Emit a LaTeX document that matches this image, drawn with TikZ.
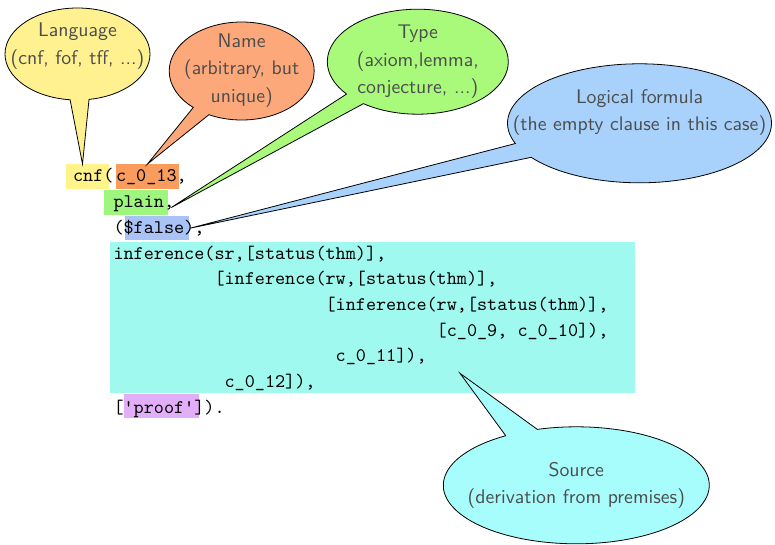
\documentclass[tikz,border=0pt]{standalone}
\usetikzlibrary{shapes.callouts,fit,calc}

% fills of the callouts and of the highlighted parts of the clause
\definecolor{langfill}{HTML}{FFF18F}
\definecolor{namefill}{HTML}{FCA87A}
\definecolor{typefill}{HTML}{A9F97B}
\definecolor{formfill}{HTML}{A8D2FC}
\definecolor{srcfill}{HTML}{A7FCFC}
\definecolor{cnfhl}{HTML}{FFF38A}
\definecolor{namehl}{HTML}{F99C5E}
\definecolor{typehl}{HTML}{9EF67E}
\definecolor{formhl}{HTML}{A9C3F7}
\definecolor{srchl}{HTML}{A0F9EF}
\definecolor{infohl}{HTML}{E2AEF8}
\definecolor{notetext}{HTML}{4D4D4D}

\newcommand\cdfont{\fontsize{9.62}{12.85}\selectfont\ttfamily}
\newcommand\ntfont{\fontsize{9.875}{13.65}\selectfont\sffamily}
% centred lines of a callout, taking no room, raised by #1
\newcommand\notelines[2]{\makebox[0pt]{\raisebox{#1}[0pt][0pt]{\begin{tabular}{@{}c@{}}#2\end{tabular}}}}

\begin{document}
\begin{tikzpicture}[x=0.5pt,y=-0.5pt,
  hlbox/.style={inner sep=0pt,outer sep=0pt,draw=none},
  codeline/.style={inner sep=0pt,outer sep=0pt,anchor=base west,font=\cdfont,text=black},
  note/.style={ellipse callout,draw=black,line width=0.4pt,inner sep=0pt,outer sep=0pt,
    text=notetext,font=\ntfont},
]
\useasboundingbox (0,0) rectangle (775,545);

% highlighted parts of the clause
\node[hlbox,fill=srchl,fit={(110,241.7) (635,393.3)}] (hlsrc) {};
\node[hlbox,fill=cnfhl,fit={(66,164) (109,189)}] (hlcnf) {};
\node[hlbox,fill=namehl,fit={(115.7,164) (179.3,189)}] (hlname) {};
\node[hlbox,fill=typehl,fit={(104,190) (168.3,215)}] (hltype) {};
\node[hlbox,fill=formhl,fit={(125,216) (189.3,240.3)}] (hlform) {};
\node[hlbox,fill=infohl,fit={(124,394.3) (199,418.3)}] (hlinfo) {};

% the clause
\node[codeline] (l1a) at (73.1,182) {cnf(};
\node[codeline] (l1b) at (116,182) {c\_0\_13,};
\node[codeline] (l2) at (113.5,207.7) {plain,};
\node[codeline] (l3) at (113.5,233.4) {(\$false),};
\node[codeline] (l4) at (113.5,259.1) {inference(sr,[status(thm)],};
\node[codeline] (l5) at (214.5,284.8) {[inference(rw,[status(thm)],};
\node[codeline] (l6) at (325.6,310.5) {[inference(rw,[status(thm)],};
\node[codeline] (l7) at (436.7,336.2) {[c\_0\_9, c\_0\_10]),};
\node[codeline] (l8) at (335.7,361.9) {c\_0\_11]),};
\node[codeline] (l9) at (224.6,387.6) {c\_0\_12]),};
\node[codeline] (l10) at (113.5,413.3) {[\textquotesingle proof\textquotesingle]).};

% where the callouts point
\coordinate (ptlang) at ($(hlcnf.north)+(-5,0)$);
\coordinate (ptname) at (hlname.north);
\coordinate (pttype) at ($(hltype.east)+(3,5)$);
\coordinate (ptform) at ($(hlform.east)+(1,0)$);
\coordinate (ptsrc) at ($(hlsrc.south)+(87.5,-20)$);

% callouts
\node[note,fill=langfill,minimum width=72.5pt,minimum height=46pt,
  callout absolute pointer={(ptlang)}] (lang) at (77.5,54)
  {\notelines{2.03pt}{Language\\(cnf, fof, tff, ...)}};
\node[note,fill=namefill,minimum width=72.5pt,minimum height=49pt,
  callout absolute pointer={(ptname)}] (name) at (241.7,71)
  {\notelines{-1.72pt}{Name\\(arbitrary, but\\unique)}};
\node[note,fill=typefill,minimum width=90.5pt,minimum height=52.5pt,
  callout absolute pointer={(pttype)}] (type) at (417.8,61.7)
  {\notelines{-1.97pt}{Type\\(axiom,lemma,\\conjecture, ...)}};
\node[note,fill=formfill,minimum width=132pt,minimum height=59.5pt,
  callout absolute pointer={(ptform)}] (form) at (639.5,123.3)
  {\notelines{3.33pt}{Logical formula\\(the empty clause in this case)}};
\node[note,fill=srcfill,minimum width=133pt,minimum height=58.5pt,
  callout absolute pointer={(ptsrc)}] (src) at (576.3,485.3)
  {\notelines{-2.17pt}{Source\\(derivation from premises)}};
\end{tikzpicture}
\end{document}
